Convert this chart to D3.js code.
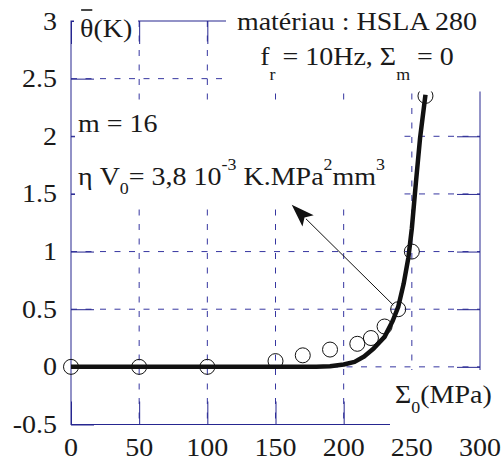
<!DOCTYPE html>
<html><head><meta charset="utf-8">
<script src="https://cdn.jsdelivr.net/npm/d3@7"></script>
<style>html,body{margin:0;padding:0;background:#fff;}svg{display:block;}
text{font-family:"Liberation Serif";}</style>
</head><body>
<script>
// ---- data ----
const xTicks = [0, 50, 100, 150, 200, 250, 300];
const yTicks = [-0.5, 0, 0.5, 1, 1.5, 2, 2.5, 3];
const yTickLabels = ["-0.5", "0", "0.5", "1", "1.5", "2", "2.5", "3"];
const measSigma = [0, 50, 100, 150, 170, 190, 210, 220, 230, 240, 250, 260];
const measTheta = [0, 0, 0, 0.05, 0.1, 0.15, 0.2, 0.25, 0.35, 0.5, 1.0, 2.35];
const modelSigma = [0, 150, 180, 190, 200, 208, 215, 222, 230, 236, 240, 244, 247.5, 250, 253, 256, 260];
const modelTheta = [0, 0, 0.002, 0.006, 0.02, 0.043, 0.09, 0.16, 0.26, 0.4, 0.52, 0.72, 0.95, 1.2, 1.6, 1.98, 2.36];
const arrowFrom = [236.4, 0.536];
const arrowTo = [161.9, 1.406];

// ---- layout ----
const W = 502, H = 461;
const AX = "#262690", GR = "#3636a0";
const FS = 25, FSS = 16, SX = 1.12;
const x = d3.scaleLinear().domain([0, 300]).range([71, 480]);
const y = d3.scaleLinear().domain([-0.5, 3]).range([424.5, 21]);
const TL = 23;

const svg = d3.select("body").append("svg").attr("width", W).attr("height", H);

// gridlines
const gx = xTicks.filter(d => d > 0 && d < 300);
const gy = yTicks.filter(d => d > -0.5 && d < 3);
svg.append("g").selectAll("line").data(gx).join("line")
  .attr("x1", d => x(d)).attr("x2", d => x(d)).attr("y1", y(3)).attr("y2", y(-0.5))
  .attr("stroke", GR).attr("stroke-width", 1).attr("stroke-dasharray", "6,8.5");
svg.append("g").selectAll("line").data(gy).join("line")
  .attr("y1", d => y(d)).attr("y2", d => y(d)).attr("x1", x(0)).attr("x2", x(300))
  .attr("stroke", GR).attr("stroke-width", 1).attr("stroke-dasharray", "6,8.5");

// axes (box) with ticks using d3 axes
const axG = svg.append("g");
function styleAxis(g) {
  g.select(".domain").remove();
  g.selectAll("text").remove();
  g.selectAll("line").attr("stroke", AX).attr("stroke-width", 1);
}
axG.append("g").attr("transform", `translate(0,${y(-0.5)})`)
  .call(d3.axisTop(x).tickValues(xTicks).tickSize(TL)).call(styleAxis);
axG.append("g").attr("transform", `translate(0,${y(3)})`)
  .call(d3.axisBottom(x).tickValues(xTicks).tickSize(TL)).call(styleAxis);
axG.append("g").attr("transform", `translate(${x(0)},0)`)
  .call(d3.axisRight(y).tickValues(yTicks).tickSize(TL)).call(styleAxis);
axG.append("g").attr("transform", `translate(${x(300)},0)`)
  .call(d3.axisLeft(y).tickValues(yTicks).tickSize(TL)).call(styleAxis);
axG.append("rect").attr("x", x(0)).attr("y", y(3)).attr("width", x(300) - x(0)).attr("height", y(-0.5) - y(3))
  .attr("fill", "none").attr("stroke", AX).attr("stroke-width", 1);

// model curve
const curve = modelSigma.map((s, i) => [s, modelTheta[i]]);
svg.append("path").datum(curve)
  .attr("d", d3.line().x(d => x(d[0])).y(d => y(d[1])))
  .attr("fill", "none").attr("stroke", "#111").attr("stroke-width", 4.5)
  .attr("stroke-linejoin", "round");

// measured points
svg.append("g").selectAll("circle").data(measSigma.map((s, i) => [s, measTheta[i]])).join("circle")
  .attr("cx", d => x(d[0])).attr("cy", d => y(d[1])).attr("r", 7.5)
  .attr("fill", "none").attr("stroke", "#111").attr("stroke-width", 1);

// white label backgrounds
const boxes = [[74, 0, 138, 45], [226, 0, 502, 91.5], [75, 106, 397.5, 208], [390, 370, 502, 461]];
svg.append("g").selectAll("rect").data(boxes).join("rect")
  .attr("x", d => d[0]).attr("y", d => d[1]).attr("width", d => d[2] - d[0]).attr("height", d => d[3] - d[1])
  .attr("fill", "#fff");

// arrow
{
  const x1 = x(arrowFrom[0]), y1 = y(arrowFrom[1]), x2 = x(arrowTo[0]), y2 = y(arrowTo[1]);
  const dx = x2 - x1, dy = y2 - y1, L = Math.hypot(dx, dy), ux = dx / L, uy = dy / L;
  const hl = 23, hw = 8;
  const bx = x2 - ux * hl, by = y2 - uy * hl;
  svg.append("line").attr("x1", x1).attr("y1", y1).attr("x2", bx + ux * 3).attr("y2", by + uy * 3)
    .attr("stroke", "#111").attr("stroke-width", 1);
  svg.append("path").attr("d", `M${x2},${y2}L${bx - uy * hw},${by + ux * hw}L${bx + ux * 5},${by + uy * 5}L${bx + uy * hw},${by - ux * hw}Z`)
    .attr("fill", "#111");
}

// text helper
function tg(px, py) {
  return svg.append("g").attr("transform", `translate(${px},${py}) scale(${SX},1)`);
}
function mkText(px, py, anchor) {
  return tg(px, py).append("text").style("font-family", "'Liberation Serif', serif").attr("font-size", FS)
    .attr("fill", "#1a1a1a").attr("text-anchor", anchor || "start");
}
function rich(t, parts) {
  // parts: [text, baseline shift in px (positive = down)]
  let cur = 0;
  parts.forEach(([s, target]) => {
    const ts = t.append("tspan").text(s).attr("font-size", target ? FSS : FS);
    if (target !== cur) ts.attr("dy", target - cur);
    cur = target;
  });
}

// tick labels
yTicks.forEach((v, i) => { mkText(57, y(v) + 8.5, "end").text(yTickLabels[i]); });
xTicks.forEach(v => { mkText(x(v), 456, "middle").text(String(v)); });

// axis titles
{
  const t = mkText(80, 37, "start");
  t.append("tspan").text("θ");
  t.append("tspan").text("(K)");
  const w = t.node().getSubStringLength(0, 1);
  d3.select(t.node().parentNode).append("line").attr("x1", 1).attr("x2", w - 1).attr("y1", -27).attr("y2", -27)
    .attr("stroke", "#1a1a1a").attr("stroke-width", 1.6);
}
rich(mkText(395, 403, "start"), [["Σ", 0], ["0", 10], ["(MPa)", 0]]);

// annotations
mkText(357, 30, "middle").text("matériau : HSLA 280");
rich(mkText(357, 65, "middle"), [["f", 0], ["r", 15], [" = 10Hz, Σ", 0], ["m", 15], [" = 0", 0]]);
mkText(78, 131.5, "start").text("m = 16");
rich(mkText(78, 185, "start"), [["η V", 0], ["0", 9], ["= 3,8 10", 0], ["-3", -15], [" K.MPa", 0], ["2", -15], ["mm", 0], ["3", -15]]);
</script>
</body></html>
